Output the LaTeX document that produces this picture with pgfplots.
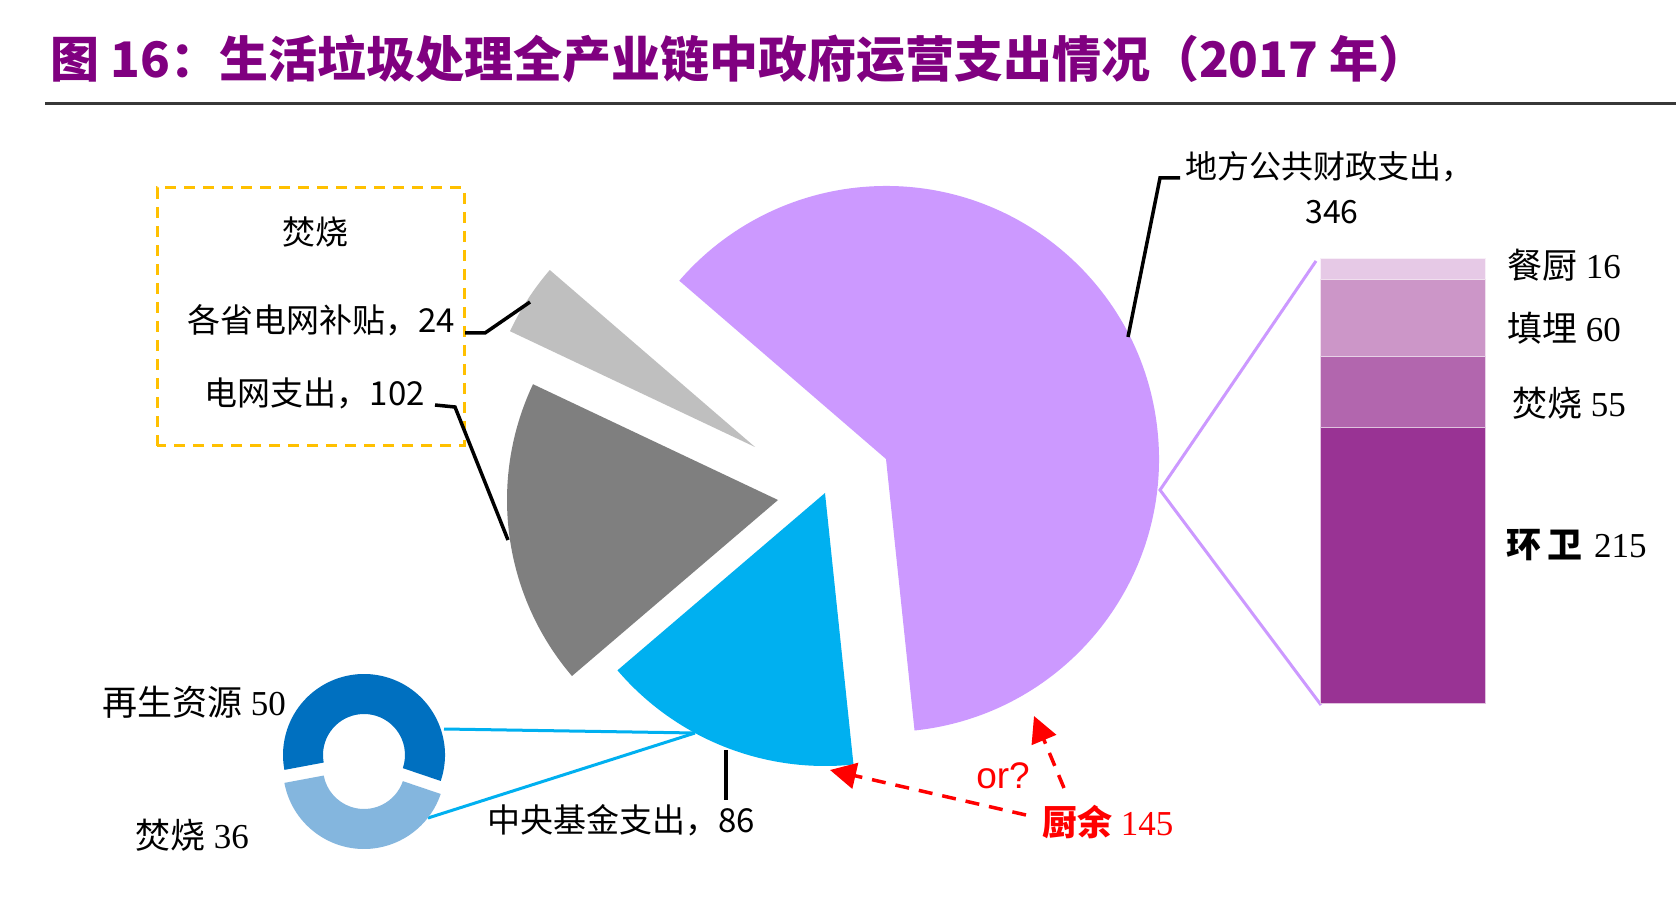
\documentclass[border=0pt]{standalone}
\usepackage{fontspec}
\setmainfont{Liberation Serif}
\newfontfamily\cjk{Noto Sans CJK SC}
\newfontfamily\ser{Liberation Serif}
\newfontfamily\ars{Liberation Sans}
\usepackage{pgfplots}
\pgfplotsset{compat=1.18}
\usetikzlibrary{arrows.meta}

\definecolor{pieP}{HTML}{CC99FF}
\definecolor{pieL}{HTML}{BFBFBF}
\definecolor{pieG}{HTML}{7F7F7F}
\definecolor{pieB}{HTML}{00B0F0}
\definecolor{barA}{HTML}{E6C9E6}
\definecolor{barB}{HTML}{CC96C8}
\definecolor{barC}{HTML}{B266AE}
\definecolor{barD}{HTML}{993394}
\definecolor{donD}{HTML}{0070C0}
\definecolor{donL}{HTML}{84B6DE}
\definecolor{ttl}{HTML}{800080}
\definecolor{boxO}{HTML}{FFC000}

\newcommand\fs[1]{\fontsize{#1}{#1}\selectfont}

% main pie: 地方公共财政支出, 各省电网补贴, 电网支出, 中央基金支出
\pgfmathsetmacro\tot{346+24+102+86}
\pgfmathsetmacro\aA{-84}
\pgfmathsetmacro\aB{\aA+346/\tot*360}
\pgfmathsetmacro\aC{\aB+24/\tot*360}
\pgfmathsetmacro\aD{\aC+102/\tot*360}
\pgfmathsetmacro\aE{\aD+86/\tot*360}
% donut: 再生资源 50, 焚烧 36
\pgfmathsetmacro\dA{-18.7}
\pgfmathsetmacro\dB{\dA+50/86*360}
\pgfmathsetmacro\dC{\dB+36/86*360}
\pgfmathsetmacro\dBr{\dB+180}
\pgfmathsetmacro\dCr{\dC+180}

\begin{document}
\begin{tikzpicture}
\useasboundingbox (0,0) rectangle (1676pt,898pt);
\fill[white] (0,0) rectangle (1676pt,898pt);
\begin{axis}[
    at={(0,0)}, anchor=south west,
    x=1pt, y=1pt,
    xmin=0, xmax=1676, ymin=0, ymax=898,
    hide axis, clip=false,
]
% title
\node[anchor=west, inner sep=0, font=\cjk\bfseries\fs{49}, text=ttl]
    at (axis cs:50,839) {图 16：生活垃圾处理全产业链中政府运营支出情况（2017 年）};
\draw[black!78, line width=3pt] (axis cs:45,794) -- (axis cs:1676,794);

% dashed box
\draw[boxO, line width=3pt, dash pattern=on 11pt off 8pt]
    (axis cs:157,452) rectangle (axis cs:464,710);
\node[font=\cjk\fs{33}] at (axis cs:315,666) {焚烧};
\node[anchor=east, inner sep=0, font=\cjk\fs{33}] at (axis cs:455,578) {各省电网补贴，24};
\node[anchor=east, inner sep=0, font=\cjk\fs{33}] at (axis cs:425,505) {电网支出，102};

% exploded pie
\fill[pieP] (axis cs:886,439) -- ++(\aA:273pt)
    arc[start angle=\aA, end angle=\aB, radius=273pt] -- cycle;
\fill[pieL] (axis cs:755,451) -- ++(\aB:271pt)
    arc[start angle=\aB, end angle=\aC, radius=271pt] -- cycle;
\fill[pieG] (axis cs:778,398) -- ++(\aC:271pt)
    arc[start angle=\aC, end angle=\aD, radius=271pt] -- cycle;
\fill[pieB] (axis cs:825,405) -- ++(\aD:273pt)
    arc[start angle=\aD, end angle=\aE, radius=273pt] -- cycle;

% leaders
\draw[black, line width=3.5pt] (axis cs:465,565) -- (axis cs:485,565) -- (axis cs:530,596);
\draw[black, line width=3.5pt] (axis cs:435,493) -- (axis cs:455,491) -- (axis cs:508,358);
\draw[black, line width=3.5pt] (axis cs:1128,561) -- (axis cs:1160,720) -- (axis cs:1180,720);
\draw[black, line width=3.5pt] (axis cs:726,148) -- (axis cs:726,98);
\node[anchor=west, inner sep=0, font=\cjk\fs{32}] at (axis cs:1185,731) {地方公共财政支出，};
\node[font=\cjk\fs{32}] at (axis cs:1332,686) {346};
\node[anchor=east, inner sep=0, font=\cjk\fs{33}] at (axis cs:755,78) {中央基金支出，86};

% connectors to the bar
\draw[pieP, line width=3pt] (axis cs:1316,637) -- (axis cs:1160,408) -- (axis cs:1321,193);

% connectors to the donut
\draw[pieB, line width=3pt] (axis cs:695,165) -- (axis cs:444,169);
\draw[pieB, line width=3pt] (axis cs:695,165) -- (axis cs:428,80);

% donut
\fill[donD] (axis cs:364,143) ++(\dA:81pt)
    arc[start angle=\dA, end angle=\dB, radius=81pt] -- ++(\dBr:40pt)
    arc[start angle=\dB, end angle=\dA, radius=41pt] -- cycle;
\fill[donL] (axis cs:364,130) ++(\dB:81pt)
    arc[start angle=\dB, end angle=\dC, radius=81pt] -- ++(\dCr:40pt)
    arc[start angle=\dC, end angle=\dB, radius=41pt] -- cycle;
\node[anchor=west, inner sep=0, font=\ser\fs{35}] at (axis cs:102,196) {{\cjk 再生资源} 50};
\node[anchor=west, inner sep=0, font=\ser\fs{35}] at (axis cs:135,63) {{\cjk 焚烧} 36};

% red arrows
\draw[red, line width=3.5pt, dash pattern=on 14pt off 10pt,
      -{Triangle[length=26pt,width=26pt]}] (axis cs:1026,83) -- (axis cs:830,128);
\draw[red, line width=3.5pt, dash pattern=on 14pt off 10pt,
      -{Triangle[length=26pt,width=26pt]}] (axis cs:1064,110) -- (axis cs:1034,182);
\node[text=red, font=\ars\fs{37}] at (axis cs:1003,122) {or?};
\node[anchor=west, inner sep=0, text=red, font=\ser\fs{35}] at (axis cs:1042,76) {{\cjk\bfseries 厨余}\ 145};

% bar labels
\node[anchor=west, inner sep=0, font=\ser\fs{35}] at (axis cs:1507,633) {{\cjk 餐厨} 16};
\node[anchor=west, inner sep=0, font=\ser\fs{35}] at (axis cs:1507,570) {{\cjk 填埋} 60};
\node[anchor=west, inner sep=0, font=\ser\fs{35}] at (axis cs:1512,495) {{\cjk 焚烧} 55};
\node[anchor=west, inner sep=0, font=\ser\fs{35}] at (axis cs:1506,353) {{\cjk\bfseries 环\hspace{6pt}卫}\hspace{12pt}215};
\end{axis}

% stacked bar: 环卫, 焚烧, 填埋, 餐厨
\begin{axis}[
    at={(1320pt,195pt)}, anchor=south west,
    width=165pt, height=444pt, scale only axis,
    xmin=-0.5, xmax=0.5, ymin=0, ymax=346,
    hide axis, clip=false,
    ybar stacked, bar width=165pt,
]
\addplot[fill=barD, draw=white!70!barD, line width=1pt] coordinates {(0,215)};
\addplot[fill=barC, draw=white!70!barC, line width=1pt] coordinates {(0,55)};
\addplot[fill=barB, draw=white!70!barB, line width=1pt] coordinates {(0,60)};
\addplot[fill=barA, draw=white!70!barA, line width=1pt] coordinates {(0,16)};
\end{axis}
\end{tikzpicture}
\end{document}
